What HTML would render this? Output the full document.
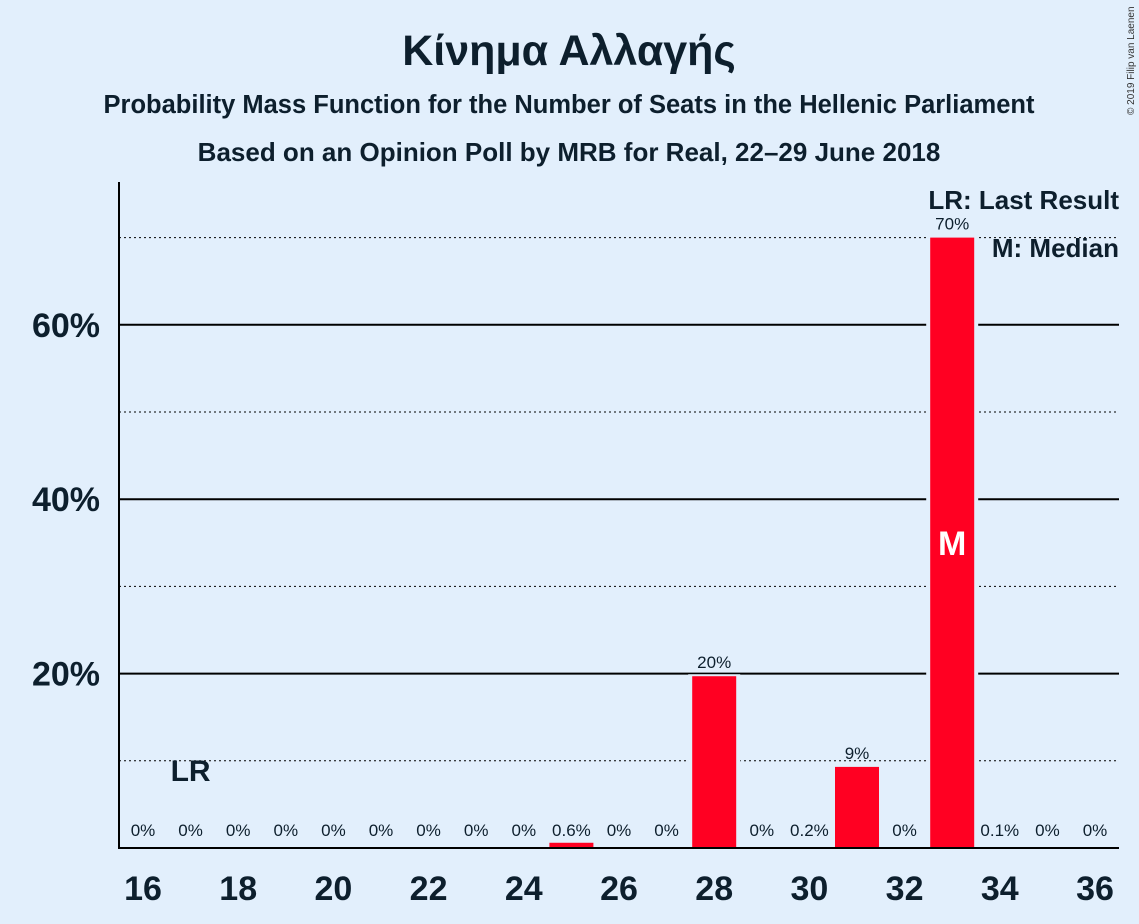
<!DOCTYPE html>
<html><head><meta charset="utf-8"><style>
body{margin:0;background:#e2effc;}
svg{display:block;font-family:"Liberation Sans","DejaVu Sans",sans-serif;}
</style></head><body>
<svg id="chart" width="1139" height="924">
<rect width="1139" height="924" fill="#e2effc"/>
<text x="569" y="65" text-anchor="middle" font-size="43" font-weight="bold" fill="#0d1f2d">Κίνημα Αλλαγής</text>
<text x="569" y="113" text-anchor="middle" font-size="25.5" font-weight="bold" fill="#0d1f2d">Probability Mass Function for the Number of Seats in the Hellenic Parliament</text>
<text x="569" y="161" text-anchor="middle" font-size="26" font-weight="bold" fill="#0d1f2d">Based on an Opinion Poll by MRB for Real, 22–29 June 2018</text>
<text x="1134" y="115" font-size="10" fill="#333" transform="rotate(-90 1134 115)">© 2019 Filip van Laenen</text>
<g id="grid"></g>
<g id="bars"></g>
<g id="xt"></g>
<line x1="119" y1="182" x2="119" y2="849" stroke="#000" stroke-width="2"/>
<line x1="118" y1="848" x2="1119" y2="848" stroke="#000" stroke-width="2"/>
<text x="1119" y="209" text-anchor="end" font-size="26" font-weight="bold" fill="#0d1f2d">LR: Last Result</text>
<text x="1119" y="257" text-anchor="end" font-size="26" font-weight="bold" fill="#0d1f2d">M: Median</text>
</svg>
<script>
const seats=[16,17,18,19,20,21,22,23,24,25,26,27,28,29,30,31,32,33,34,35,36];
const probs=[0,0,0,0,0,0,0,0,0,0.6,0,0,19.7,0,0.2,9.3,0,70,0.1,0,0];
const labels=["0%","0%","0%","0%","0%","0%","0%","0%","0%","0.6%","0%","0%","20%","0%","0.2%","9%","0%","70%","0.1%","0%","0%"];
const xTicks=[16,18,20,22,24,26,28,30,32,34,36];
const yMajor=[20,40,60];
const yMinor=[10,30,50,70];
const lastResult=17, median=33;
const NS="http://www.w3.org/2000/svg";
const X=s=>143+(s-16)*47.6;
const Y=p=>848-p*8.72;
function mk(t,a,parent){const e=document.createElementNS(NS,t);for(const k in a)e.setAttribute(k,a[k]);document.getElementById(parent).appendChild(e);return e;}
yMinor.forEach(v=>{const l=mk('line',{x1:119,x2:1119,y1:Y(v),y2:Y(v),stroke:'#000','stroke-width':1,'stroke-dasharray':'2,3'},'grid');

});
yMajor.forEach(v=>{const l=mk('line',{x1:119,x2:1119,y1:Y(v),y2:Y(v),stroke:'#000','stroke-width':2},'grid');


const t=mk('text',{x:100,y:Y(v)+12,'text-anchor':'end','font-size':34,'font-weight':'bold',fill:'#0d1f2d'},'grid');t.textContent=v+'%';

});
seats.forEach((s,i)=>{const p=probs[i];
if(p>1){const bg=mk('rect',{x:X(s)-26,y:Y(p)-2,width:52,height:848-Y(p)+2,fill:'#e2effc'},'bars');

}
if(p>=0.5){const r=mk('rect',{x:X(s)-22,y:Y(p),width:44,height:848-Y(p),fill:'#ff0022'},'bars');

}
const ly=p>3?Y(p)-8:836;
const t=mk('text',{x:X(s),y:ly,'text-anchor':'middle','font-size':17,fill:'#0d1f2d'},'bars');t.textContent=labels[i];


if(s===median){const m=mk('text',{x:X(s),y:Y(p/2)+12,'text-anchor':'middle','font-size':34,'font-weight':'bold',fill:'#fff'},'bars');m.textContent='M';

}
if(s===lastResult){const m=mk('text',{x:X(s),y:781,'text-anchor':'middle','font-size':30,'font-weight':'bold',fill:'#0d1f2d'},'bars');m.textContent='LR';

}
});
xTicks.forEach(s=>{const t=mk('text',{x:X(s),y:900,'text-anchor':'middle','font-size':34,'font-weight':'bold',fill:'#0d1f2d'},'xt');t.textContent=s;

});
</script>
</body></html>
